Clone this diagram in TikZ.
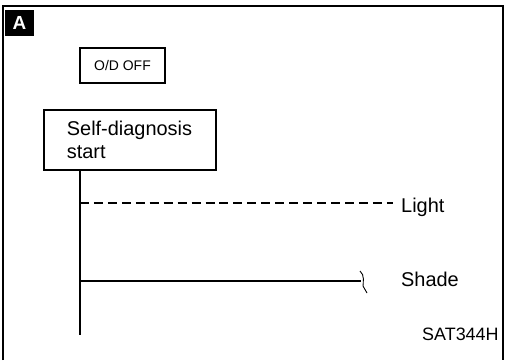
\documentclass[tikz,border=0pt]{standalone}
\usepackage{fontspec}
\setmainfont{Liberation Sans}
\usepackage{tikz}
\usetikzlibrary{positioning,calc}
\tikzset{
  box/.style={draw=black, line width=1.8pt, fill=white, inner sep=0pt},
  tagbox/.style={fill=black, text=white, inner sep=0pt, font=\fontsize{19}{19}\selectfont\bfseries},
  label/.style={inner sep=0pt, anchor=base west, font=\fontsize{20}{24}\selectfont},
  wire/.style={line width=1.1pt, draw=black},
  dashwire/.style={wire, dash pattern=on 9pt off 5pt},
}

\begin{document}
\begin{tikzpicture}[x=1bp, y=-1bp]
  \useasboundingbox (0,0) rectangle (507,360);
  % open-bottom panel frame
  \draw[line width=1.4pt] (3,360) -- (3,6) -- (503,6) -- (503,360);
  \node[tagbox, minimum width=29bp, minimum height=26bp] (tag) at (19.5,23) {A};

  \node[box, minimum width=85bp, minimum height=35bp, font=\fontsize{14}{14}\selectfont] (odoff) at (122.5,65.5) {O/D OFF};
  \node[box, anchor=north west, minimum height=60bp, text width=126bp, inner xsep=23bp,
        align=left, font=\fontsize{20}{24}\selectfont] (selfdiag) at (43,109) {Self-diagnosis\\start};

  \node[label] (light) at (401,212) {Light};
  \node[label] (shade) at (401,286) {Shade};
  \node[label, font=\fontsize{18}{18}\selectfont] (code) at (422,340) {SAT344H};

  \coordinate (stem) at (80,335);
  \coordinate (shadeend) at (361,281);
  \draw[wire] (selfdiag.south -| stem) -- (stem);
  \draw[dashwire] (stem |- 0,203) -- ($(light.west |- 0,203)+(-8,0)$);
  \draw[wire] (stem |- shadeend) -- (shadeend);
  \draw[line width=0.9pt] ($(shadeend)+(-1,-10)$) .. controls ($(shadeend)+(4,-6)$) and ($(shadeend)+(2,2)$) .. ($(shadeend)+(2,5)$) -- ($(shadeend)+(6,12)$);
\end{tikzpicture}
\end{document}
